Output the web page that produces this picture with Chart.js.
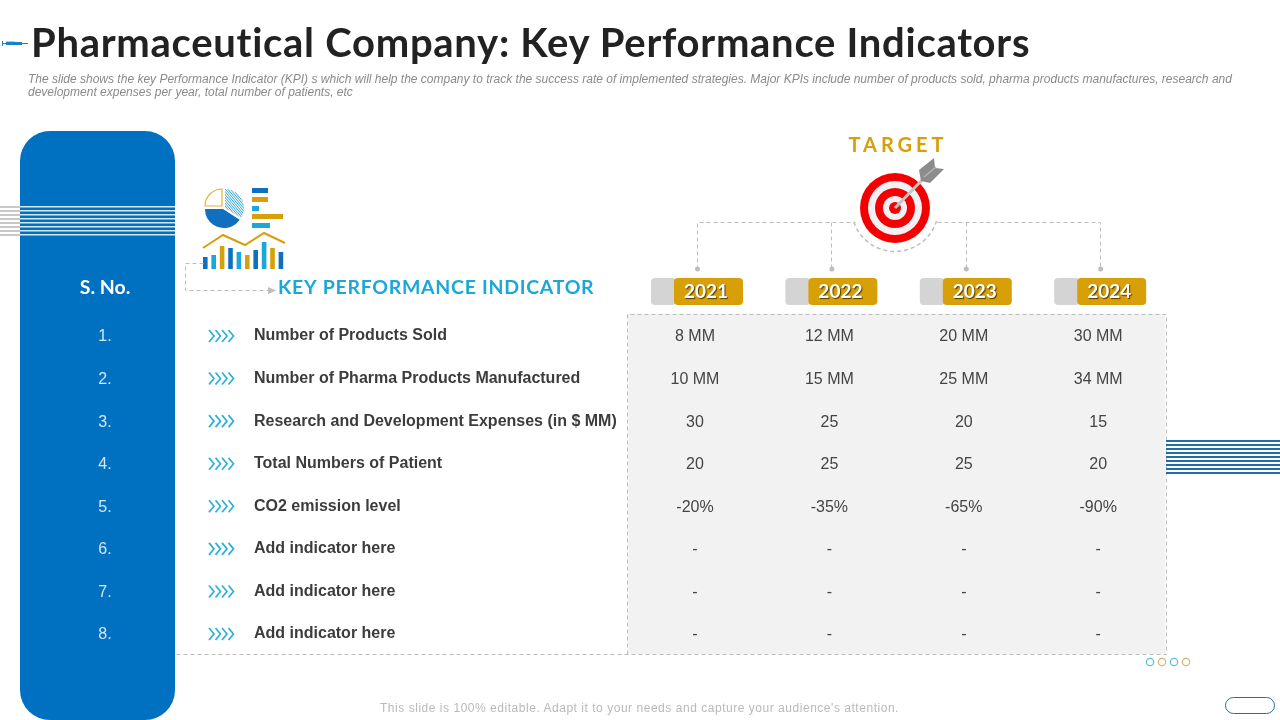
<!DOCTYPE html>
<html>
<head>
<meta charset="utf-8">
<title>Pharmaceutical Company: Key Performance Indicators</title>
<script src="https://cdn.jsdelivr.net/npm/chart.js@4/dist/chart.umd.min.js"></script>
<style>
  html, body { margin: 0; padding: 0; background: #fff; width: 1280px; height: 720px; overflow: hidden; }
  #wrap { position: relative; width: 1280px; height: 720px; }
  canvas { position: absolute; left: 0; top: 0; }
  .txt { position: absolute; white-space: nowrap; }
  #title { left: 31px; top: 18px; font: 700 40px Lato, sans-serif; color: #222; letter-spacing: 0.72px; line-height: 48px; }
  #sub { left: 28px; top: 73px; width: 1230px; white-space: normal; font: italic 12px/13px "Liberation Sans", sans-serif; color: #8a8a8a; letter-spacing: 0; }
  #foot { left: 380px; top: 701px; font: 12px "Liberation Sans", sans-serif; color: #b9b9b9; letter-spacing: 0.53px; }
</style>
</head>
<body>
<div id="wrap">
  <canvas id="kpi" width="1280" height="720"></canvas>
  <div class="txt" id="title">Pharmaceutical Company: Key Performance Indicators</div>
  <div class="txt" id="sub">The slide shows the key Performance Indicator (KPI) s which will help the company to track the success rate of implemented strategies. Major KPIs include number of products sold, pharma products manufactures, research and development expenses per year, total number of patients, etc</div>
  <div class="txt" id="foot">This slide is 100% editable. Adapt it to your needs and capture your audience's attention.</div>
</div>
<script>
const years = ["2021", "2022", "2023", "2024"];
const serialNumbers = ["1.", "2.", "3.", "4.", "5.", "6.", "7.", "8."];
const indicators = [
  "Number of Products Sold",
  "Number of Pharma Products Manufactured",
  "Research and Development Expenses (in $ MM)",
  "Total Numbers of Patient",
  "CO2 emission level",
  "Add indicator here",
  "Add indicator here ",
  "Add indicator here  "
];
const values2021 = ["8 MM", "10 MM", "30", "20", "-20%", "-", "-", "-"];
const values2022 = ["12 MM", "15 MM", "25", "25", "-35%", "-", "-", "-"];
const values2023 = ["20 MM", "25 MM", "20", "25", "-65%", "-", "-", "-"];
const values2024 = ["30 MM", "34 MM", "15", "20", "-90%", "-", "-", "-"];
const yearValues = [values2021, values2022, values2023, values2024];

const BLUE = "#0070c0", CYAN = "#1ba8d9", GOLD = "#d8a008", DASH = "#bdbdbd";

function dashed(ctx, pts) {
  ctx.save();
  ctx.strokeStyle = DASH;
  ctx.lineWidth = 1;
  ctx.setLineDash([4, 3]);
  ctx.beginPath();
  pts.forEach((p, i) => {
    const x = Math.round(p[0]) + 0.5, y = Math.round(p[1]) + 0.5;
    i ? ctx.lineTo(x, y) : ctx.moveTo(x, y);
  });
  ctx.stroke();
  ctx.restore();
}

function text(ctx, str, x, y, font, color, align, spacing) {
  ctx.font = font;
  ctx.fillStyle = color;
  ctx.textAlign = align || "center";
  ctx.textBaseline = "middle";
  ctx.letterSpacing = spacing || "0px";
  ctx.fillText(str, x, y);
  ctx.letterSpacing = "0px";
}

function drawPanel(ctx) {
  ctx.fillStyle = BLUE;
  ctx.beginPath();
  ctx.roundRect(20, 131, 155, 589, 30);
  ctx.fill();
  // stripes going across the panel
  for (let i = 0; i < 8; i++) {
    const y = 206 + i * 4;
    ctx.fillStyle = "#c8c8c8";
    ctx.fillRect(0, y, 20, 2);
    ctx.fillStyle = "#d4e7f6";
    ctx.fillRect(20, y, 155, 1.5);
  }
  text(ctx, "S. No.", 105, 288, "700 19.5px Lato, sans-serif", "#fff");
}

function drawSyringe(ctx) {
  ctx.fillStyle = "#1f7fc4";
  ctx.fillRect(2, 41, 1, 5);
  ctx.fillRect(3, 43, 25, 1);
  ctx.fillRect(6, 42, 16, 3);
  ctx.fillStyle = "#9fd3ef";
  ctx.fillRect(6, 41, 9, 1);
}

function drawTarget(ctx) {
  const cx = 895, cy = 208;
  [[35, "#f40000"], [27, "#f1f1f5"], [20, "#f40000"], [12, "#f1f1f5"], [6, "#f40000"]].forEach(r => {
    ctx.fillStyle = r[1];
    ctx.beginPath();
    ctx.arc(cx, cy, r[0], 0, Math.PI * 2);
    ctx.fill();
  });
  // arrow shaft and fletching
  ctx.strokeStyle = "#c4c4c4";
  ctx.lineWidth = 3;
  ctx.beginPath();
  ctx.moveTo(cx, cy);
  ctx.lineTo(925, 177);
  ctx.stroke();
  ctx.fillStyle = "#8c8c8c";
  ctx.beginPath();
  ctx.moveTo(919, 170); ctx.lineTo(934, 158); ctx.lineTo(935, 168); ctx.lineTo(944, 169);
  ctx.lineTo(930, 183); ctx.lineTo(921, 181);
  ctx.closePath();
  ctx.fill();
  ctx.strokeStyle = "#b5b5b5";
  ctx.lineWidth = 1.5;
  ctx.beginPath();
  ctx.moveTo(924, 177); ctx.lineTo(936, 167);
  ctx.stroke();
  // dashed arc under the target
  ctx.save();
  ctx.strokeStyle = DASH;
  ctx.setLineDash([4, 3]);
  ctx.beginPath();
  ctx.arc(cx, cy, 43.5, 0.3, Math.PI - 0.3);
  ctx.stroke();
  ctx.restore();
  text(ctx, "TARGET", 898, 146, "700 20px Lato, sans-serif", GOLD, "center", "4px");
}

function drawIcon(ctx) {
  const px = 224, py = 208;
  ctx.fillStyle = "#1070bd";
  ctx.beginPath();
  ctx.moveTo(px - 1, py + 1);
  ctx.lineTo(px + 16, py + 12);
  ctx.arc(px, py + 1, 19, 0.6, Math.PI);
  ctx.closePath();
  ctx.fill();
  ctx.strokeStyle = "#e0b33a";
  ctx.lineWidth = 1.2;
  ctx.beginPath();
  ctx.moveTo(px - 2, py - 2);
  ctx.lineTo(px - 19, py - 2);
  ctx.arc(px - 2, py - 2, 17, Math.PI, Math.PI * 1.5);
  ctx.closePath();
  ctx.stroke();
  // hatched slice
  ctx.save();
  ctx.beginPath();
  ctx.moveTo(px + 1, py);
  ctx.lineTo(px + 1, py - 19);
  ctx.arc(px + 1, py, 19, -Math.PI / 2, 0.55);
  ctx.closePath();
  ctx.clip();
  ctx.strokeStyle = "#2aa5d6";
  ctx.lineWidth = 1;
  for (let i = -30; i < 40; i += 2.4) {
    ctx.beginPath();
    ctx.moveTo(px + i, py - 22);
    ctx.lineTo(px + i + 30, py + 14);
    ctx.stroke();
  }
  ctx.restore();
  const rows = [[188, 16, "#1070bd"], [197, 16, GOLD], [206, 7, CYAN], [214, 31, GOLD], [223, 18, CYAN]];
  rows.forEach(r => { ctx.fillStyle = r[2]; ctx.fillRect(252, r[0], r[1], 5); });
  const tops = [257, 255, 246, 248, 252, 255, 250, 242, 248, 252];
  const cols = ["#1070bd", CYAN, GOLD];
  tops.forEach((t, i) => {
    ctx.fillStyle = cols[i % 3];
    ctx.fillRect(203 + i * 8.4, t, 4.6, 269 - t);
  });
  ctx.strokeStyle = GOLD;
  ctx.lineWidth = 2;
  ctx.beginPath();
  ctx.moveTo(203, 248); ctx.lineTo(223, 235); ctx.lineTo(245, 245); ctx.lineTo(264, 233); ctx.lineTo(285, 243);
  ctx.stroke();
  dashed(ctx, [[203, 263], [185, 263], [185, 290], [268, 290]]);
  ctx.fillStyle = DASH;
  ctx.beginPath();
  ctx.moveTo(268, 287); ctx.lineTo(276, 290.5); ctx.lineTo(268, 294);
  ctx.closePath();
  ctx.fill();
}

function drawFurniture(ctx) {
  // blue stripes on the right
  ctx.fillStyle = "#1f6fa5";
  for (let i = 0; i < 9; i++) ctx.fillRect(1166, 440 + i * 4, 114, 2);
  [[1150, "#4fc3dc"], [1162, "#d8b36a"], [1174, "#4fc3dc"], [1186, "#d8b36a"]].forEach(d => {
    ctx.strokeStyle = d[1];
    ctx.lineWidth = 1.2;
    ctx.beginPath();
    ctx.arc(d[0], 662, 3.7, 0, Math.PI * 2);
    ctx.stroke();
  });
  ctx.strokeStyle = "#1f6fa5";
  ctx.lineWidth = 1;
  ctx.beginPath();
  ctx.roundRect(1225.5, 697.5, 49, 16, 8);
  ctx.stroke();
}

// everything around the table: panel, icons, badges, row furniture
const slidePlugin = {
  id: "slide",
  beforeDraw(chart) {
    const ctx = chart.ctx, area = chart.chartArea;
    const xs = chart.scales.x, ys = chart.scales.y;
    const top = area.top - 1, bottom = area.bottom - 1;
    ctx.save();
    ctx.fillStyle = "#f2f2f2";
    ctx.fillRect(area.left, top, area.right - area.left, bottom - top);
    dashed(ctx, [[area.left - 1, bottom], [area.left - 1, top], [area.right + 1, top], [area.right + 1, bottom], [175, bottom]]);
    drawPanel(ctx);
    drawSyringe(ctx);
    drawIcon(ctx);
    drawFurniture(ctx);
    text(ctx, "KEY PERFORMANCE INDICATOR", 278, 288, "700 19.5px Lato, sans-serif", CYAN, "left", "0.7px");

    dashed(ctx, [[xs.getPixelForValue(0) + 2, 269], [xs.getPixelForValue(0) + 2, 222], [855, 222]]);
    dashed(ctx, [[937, 222], [xs.getPixelForValue(3) + 2, 222], [xs.getPixelForValue(3) + 2, 269]]);
    dashed(ctx, [[xs.getPixelForValue(1) + 2, 222], [xs.getPixelForValue(1) + 2, 269]]);
    dashed(ctx, [[xs.getPixelForValue(2) + 2, 222], [xs.getPixelForValue(2) + 2, 269]]);
    drawTarget(ctx);

    years.forEach((year, i) => {
      const c = xs.getPixelForValue(i);
      ctx.fillStyle = "#bdbdbd";
      ctx.beginPath();
      ctx.arc(c + 2.5, 269, 2.5, 0, Math.PI * 2);
      ctx.fill();
      ctx.fillStyle = "#d4d4d4";
      ctx.beginPath();
      ctx.roundRect(c - 44, 278, 25, 27, 4);
      ctx.fill();
      ctx.fillStyle = GOLD;
      ctx.beginPath();
      ctx.roundRect(c - 21, 278, 69, 27, 4);
      ctx.fill();
      ctx.save();
      ctx.shadowColor = "rgba(60,40,0,.85)";
      ctx.shadowOffsetX = 1;
      ctx.shadowOffsetY = 1;
      ctx.shadowBlur = 1;
      text(ctx, year, c + 11, 292, "700 19px Lato, sans-serif", "#fff");
      ctx.restore();
    });

    serialNumbers.forEach((n, i) => {
      const y = ys.getPixelForValue(i);
      text(ctx, n, 105, y + 1, "16px 'Liberation Sans', sans-serif", "#d5e6f5");
      // four small chevrons in front of each indicator
      ctx.strokeStyle = "#2bb0d8";
      ctx.lineWidth = 1.7;
      for (let k = 0; k < 4; k++) {
        const cx = 209 + k * 6.5;
        ctx.beginPath();
        ctx.moveTo(cx, y - 6); ctx.lineTo(cx + 5, y); ctx.lineTo(cx, y + 6);
        ctx.stroke();
      }
    });
    ctx.restore();
  },
  // the table cells, placed on the points the scatter datasets got from the scales
  afterDatasetsDraw(chart) {
    const ctx = chart.ctx;
    ctx.save();
    chart.data.datasets.forEach((ds, d) => {
      chart.getDatasetMeta(d).data.forEach((pt, i) => {
        text(ctx, ds.cells[i], pt.x, pt.y + 1, "16px 'Liberation Sans', sans-serif", "#444");
      });
    });
    ctx.restore();
  }
};

new Chart(document.getElementById("kpi"), {
  type: "scatter",
  data: {
    datasets: yearValues.map((vals, d) => ({
      label: years[d],
      cells: vals,
      data: indicators.map(name => ({ x: years[d], y: name })),
      pointRadius: 0
    }))
  },
  options: {
    responsive: false,
    animation: false,
    devicePixelRatio: 1,
    events: [],
    layout: { padding: { left: 254, top: 314.7, right: 114.6, bottom: 64.7 } },
    plugins: { legend: { display: false }, tooltip: { enabled: false }, title: { display: false } },
    scales: {
      x: {
        type: "category",
        labels: years,
        offset: true,
        border: { display: false },
        grid: { display: false },
        afterFit(scale) { scale.height = 0; },
        ticks: { display: false }
      },
      y: {
        type: "category",
        labels: indicators,
        offset: true,
        border: { display: false },
        grid: { display: false },
        afterFit(scale) { scale.width = 373.8; },
        ticks: {
          autoSkip: false,
          crossAlign: "far",
          padding: 0,
          color: "#3c3c3c",
          font: { family: "'Liberation Sans', sans-serif", size: 16, weight: "700" }
        }
      }
    }
  },
  plugins: [slidePlugin]
});
</script>
</body>
</html>
